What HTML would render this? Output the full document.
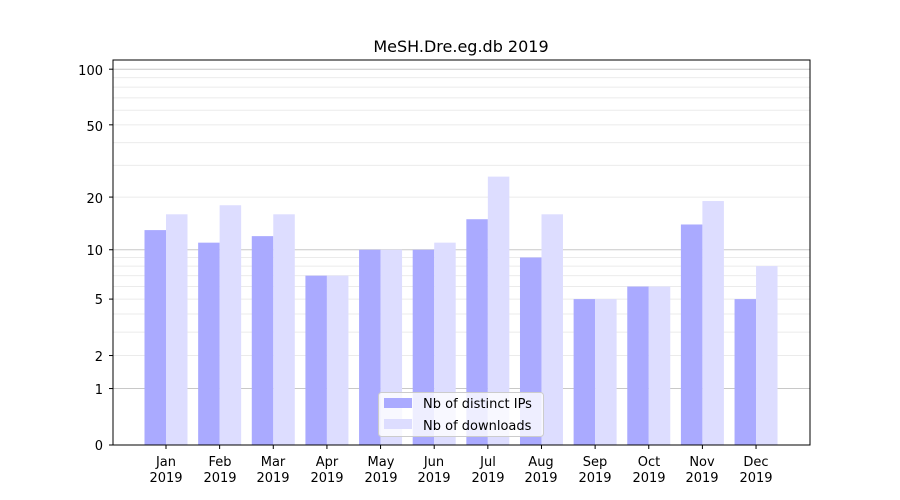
<!DOCTYPE html>
<html><head><meta charset="utf-8"><style>body{margin:0;background:#fff}svg{display:block}text{font-family:"DejaVu Sans","Liberation Sans",sans-serif;fill:#000}</style></head>
<body>
<svg id="s" width="900" height="500" xmlns="http://www.w3.org/2000/svg">
<rect width="900" height="500" fill="#fff"/>
<g id="grid"></g>
<g id="bars"></g>
<rect x="113" y="60" width="697" height="385" fill="none" stroke="#000" stroke-width="1"/>
<g id="ticks" stroke="#000"></g>
<text x="461" y="52" font-size="16" text-anchor="middle">MeSH.Dre.eg.db 2019</text>
<g font-size="13" text-anchor="end">
<text x="103" y="75">100</text><text x="103" y="131">50</text><text x="103" y="203">20</text><text x="103" y="255">10</text><text x="103" y="304">5</text><text x="103" y="361">2</text><text x="103" y="394">1</text><text x="103" y="450">0</text>
</g>
<g font-size="13" text-anchor="middle" id="xl">
<text x="166" y="466">Jan</text><text x="166" y="482">2019</text>
<text x="220" y="466">Feb</text><text x="220" y="482">2019</text>
<text x="273" y="466">Mar</text><text x="273" y="482">2019</text>
<text x="327" y="466">Apr</text><text x="327" y="482">2019</text>
<text x="381" y="466">May</text><text x="381" y="482">2019</text>
<text x="434" y="466">Jun</text><text x="434" y="482">2019</text>
<text x="488" y="466">Jul</text><text x="488" y="482">2019</text>
<text x="541" y="466">Aug</text><text x="541" y="482">2019</text>
<text x="595" y="466">Sep</text><text x="595" y="482">2019</text>
<text x="649" y="466">Oct</text><text x="649" y="482">2019</text>
<text x="702" y="466">Nov</text><text x="702" y="482">2019</text>
<text x="756" y="466">Dec</text><text x="756" y="482">2019</text>
</g>
<rect x="378.5" y="392.5" width="165" height="44" rx="3" fill="#fff" fill-opacity="0.8" stroke="#ccc"/>
<rect x="384" y="398" width="28" height="10" fill="#aaaaff"/>
<rect x="384" y="419" width="28" height="10" fill="#ddddff"/>
<text x="423" y="408" font-size="13">Nb of distinct IPs</text>
<text x="423" y="430" font-size="13">Nb of downloads</text>
</svg>
<script>
var NS="http://www.w3.org/2000/svg";
function Y(v){return 445-187.5*Math.log10(v+1);}
function el(p,t,a){var e=document.createElementNS(NS,t);for(var k in a)e.setAttribute(k,a[k]);document.getElementById(p).appendChild(e);}
var minors=[2,3,4,5,6,7,8,9,20,30,40,50,60,70,80,90];
minors.forEach(function(v){var y=Y(v);el("grid","line",{x1:113,x2:810,y1:y,y2:y,stroke:"#ebebeb","stroke-width":1});});
[1,10,100].forEach(function(v){var y=Y(v);el("grid","line",{x1:113,x2:810,y1:y,y2:y,stroke:"#c8c8c8","stroke-width":1});});
var ips=[13,11,12,7,10,10,15,9,5,6,14,5],dl=[16,18,16,7,10,11,26,16,5,6,19,8];
for(var i=0;i<12;i++){var c=166+i*53.64;
el("bars","rect",{x:c-21.5,y:Y(ips[i]),width:21.5,height:445-Y(ips[i]),fill:"#aaaaff"});
el("bars","rect",{x:c,y:Y(dl[i]),width:21.5,height:445-Y(dl[i]),fill:"#ddddff"});
el("ticks","line",{x1:c,x2:c,y1:445,y2:449});}
[0,1,2,5,10,20,50,100].forEach(function(v){var y=Y(v);el("ticks","line",{x1:109,x2:113,y1:y,y2:y});});
</script>
</body></html>
